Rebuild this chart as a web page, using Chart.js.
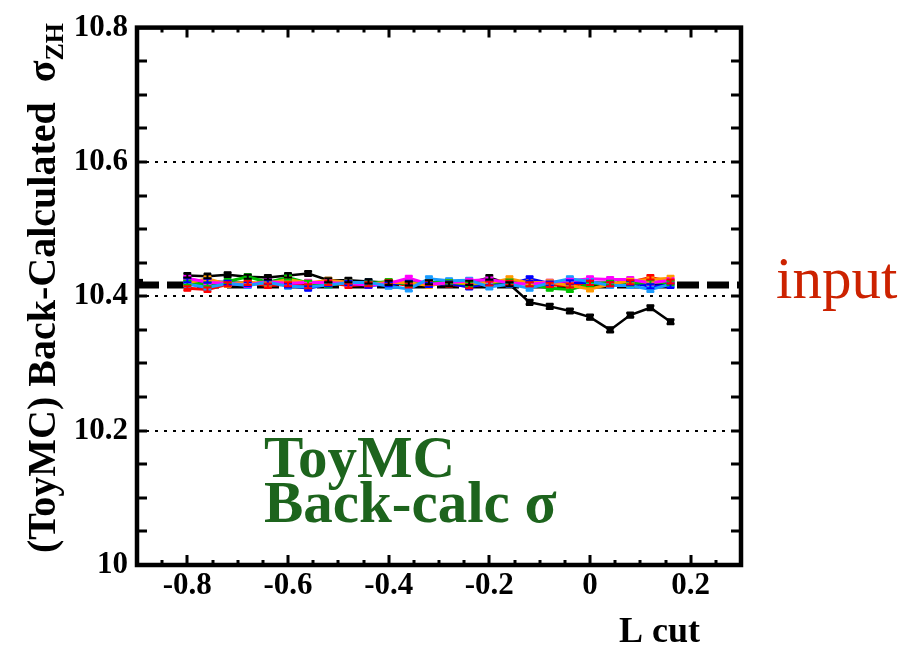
<!DOCTYPE html>
<html><head><meta charset="utf-8">
<script src="https://cdn.jsdelivr.net/npm/chart.js@4"></script>
<style>html,body{margin:0;padding:0;background:#fff;}</style>
</head><body>
<canvas id="c" width="908" height="647"></canvas>
<script>
// ---- data ----
const lcut = [-0.8,-0.76,-0.72,-0.68,-0.64,-0.6,-0.56,-0.52,-0.48,-0.44,-0.4,-0.36,-0.32,-0.28,-0.24,-0.2,-0.16,-0.12,-0.08,-0.04,0,0.04,0.08,0.12,0.16];
const sigBlack   = [10.431,10.430,10.432,10.429,10.428,10.431,10.434,10.424,10.424,10.422,10.420,10.419,10.421,10.418,10.420,10.428,10.418,10.391,10.385,10.378,10.369,10.350,10.372,10.383,10.362];
const sigRed     = [10.412,10.410,10.418,10.420,10.416,10.418,10.415,10.420,10.416,10.418,10.421,10.416,10.420,10.418,10.415,10.419,10.420,10.418,10.417,10.416,10.420,10.418,10.421,10.428,10.422];
const sigBlue    = [10.424,10.423,10.420,10.418,10.421,10.416,10.412,10.418,10.420,10.416,10.418,10.420,10.417,10.419,10.414,10.420,10.418,10.426,10.419,10.421,10.420,10.418,10.420,10.415,10.416];
const sigGreen   = [10.420,10.418,10.422,10.429,10.421,10.428,10.420,10.417,10.420,10.419,10.422,10.418,10.420,10.421,10.418,10.420,10.422,10.418,10.412,10.410,10.418,10.420,10.419,10.421,10.420];
const sigMagenta = [10.427,10.421,10.419,10.417,10.422,10.419,10.421,10.420,10.419,10.417,10.419,10.427,10.418,10.420,10.423,10.425,10.420,10.418,10.421,10.423,10.426,10.425,10.425,10.420,10.424];
const sigOrange  = [10.420,10.426,10.418,10.421,10.419,10.425,10.420,10.424,10.421,10.418,10.421,10.420,10.416,10.421,10.419,10.420,10.426,10.420,10.421,10.416,10.411,10.418,10.423,10.425,10.427];
const sigCyan    = [10.418,10.413,10.419,10.416,10.421,10.415,10.414,10.417,10.420,10.421,10.415,10.411,10.426,10.423,10.424,10.414,10.418,10.412,10.420,10.426,10.422,10.416,10.416,10.410,10.418];
const sigErr     = [0.003,0.003,0.003,0.003,0.003,0.003,0.003,0.003,0.003,0.003,0.003,0.003,0.003,0.003,0.003,0.003,0.003,0.003,0.003,0.003,0.003,0.003,0.003,0.003,0.003];
const inputSigma = 10.417;
const xRange = [-0.9, 0.3];
const yRange = [10.0, 10.8];
const xTickVals = [-0.8,-0.6,-0.4,-0.2,0,0.2];
const yTickVals = [10,10.2,10.4,10.6,10.8];
const yGridVals = [10.2,10.4,10.6];

const SERIF = '"Liberation Serif","Times New Roman",serif';

function pts(ys){ return lcut.map((x,i)=>({x:x, y:ys[i]})); }
function series(ys, color, lw){
  return {data: pts(ys), borderColor: color, backgroundColor: color, showLine: true,
    borderWidth: lw, pointStyle: 'rect', pointRadius: 5, pointHoverRadius: 5,
    pointBorderWidth: 0, errors: sigErr, tension: 0};
}
const datasets = [
  series(sigCyan, '#1a9cff', 3),
  series(sigMagenta, '#ff00ff', 3),
  series(sigOrange, '#ff9900', 3),
  series(sigGreen, '#00c000', 3),
  series(sigBlue, '#0000ff', 3),
  series(sigRed, '#ff0000', 3),
  series(sigBlack, '#000000', 2.5),
  {data: [{x:xRange[0], y:inputSigma},{x:xRange[1], y:inputSigma}], borderColor:'#000', borderWidth:7,
   borderDash:[22,8], showLine:true, pointRadius:0, pointHoverRadius:0}
];

const decor = {
  id: 'decor',
  afterDatasetsDraw(chart){
    const c = chart.ctx, xs = chart.scales.x, ys = chart.scales.y;
    c.save();
    chart.data.datasets.forEach((ds)=>{
      if(!ds.errors) return;
      c.strokeStyle = ds.borderColor; c.lineWidth = 2;
      ds.data.forEach((p,i)=>{
        const px = xs.getPixelForValue(p.x);
        const y1 = ys.getPixelForValue(p.y - ds.errors[i]);
        const y2 = ys.getPixelForValue(p.y + ds.errors[i]);
        c.beginPath();
        c.moveTo(px, y1); c.lineTo(px, y2);
        c.moveTo(px-4, y1); c.lineTo(px+4, y1);
        c.moveTo(px-4, y2); c.lineTo(px+4, y2);
        c.stroke();
      });
    });
    c.restore();
  },
  afterDraw(chart){
    const c = chart.ctx, a = chart.chartArea, xs = chart.scales.x, ys = chart.scales.y;
    c.save();
    c.strokeStyle = '#000';
    c.lineWidth = 3;
    for(let k=1;k<16;k++){
      const v = yRange[0] + k*0.05;
      const py = Math.round(ys.getPixelForValue(v));
      c.beginPath();
      c.moveTo(a.left, py); c.lineTo(a.left+10, py);
      c.moveTo(a.right, py); c.lineTo(a.right-10, py);
      c.stroke();
    }
    for(let k=1;k<24;k++){
      const v = xRange[0] + k*0.05;
      const px = Math.round(xs.getPixelForValue(v));
      const major = xTickVals.some(t=>Math.abs(t-v)<1e-6);
      const len = major ? 10 : 5;
      c.beginPath();
      c.moveTo(px, a.bottom); c.lineTo(px, a.bottom-len);
      c.moveTo(px, a.top); c.lineTo(px, a.top+len);
      c.stroke();
    }
    c.lineWidth = 6;
    const pin = ys.getPixelForValue(inputSigma);
    c.beginPath(); c.moveTo(a.left-2, pin-3); c.lineTo(a.left+6, pin-3); c.stroke();
    c.lineWidth = 4.5;
    c.strokeRect(a.left, a.top, a.right-a.left, a.bottom-a.top);

    // y title
    c.fillStyle = '#000';
    c.save();
    c.translate(63, 288);
    c.rotate(-Math.PI/2);
    const main = '(ToyMC) Back-Calculated  σ';
    const sub = 'ZH';
    c.font = 'bold 40px ' + SERIF;
    const wMain = c.measureText(main).width;
    c.font = 'bold 26px ' + SERIF;
    const wSub = c.measureText(sub).width;
    const total = wMain + wSub;
    c.textBaseline = 'alphabetic';
    c.textAlign = 'left';
    c.font = 'bold 40px ' + SERIF;
    c.fillText(main, -total/2, -8);
    c.font = 'bold 26px ' + SERIF;
    c.fillText(sub, -total/2 + wMain, 0);
    c.restore();

    // x title
    c.font = 'bold 36px ' + SERIF;
    c.textAlign = 'right'; c.textBaseline = 'alphabetic';
    c.fillText('L cut', 700, 642);

    // input label
    c.fillStyle = '#cc2200';
    c.font = '59px ' + SERIF;
    c.textAlign = 'left';
    c.fillText('input', 776, 298);

    // ToyMC label
    c.fillStyle = '#1d641d';
    c.font = 'bold 59px ' + SERIF;
    c.fillText('ToyMC', 264, 477);
    c.fillText('Back-calc σ', 264, 522);
    c.restore();
  }
};

new Chart(document.getElementById('c'), {
  type: 'scatter',
  data: {datasets},
  options: {
    responsive: false, animation: false, devicePixelRatio: 1,
    layout: {padding: {left: 0, right: 167, top: 20, bottom: 0}},
    plugins: {legend: {display: false}, tooltip: {enabled: false}},
    scales: {
      x: {
        type: 'linear', min: xRange[0], max: xRange[1],
        afterBuildTicks: s => { s.ticks = xTickVals.map(v=>({value:v})); },
        afterFit: s => { s.height = 82; },
        grid: {display: false, drawTicks: false},
        border: {display: false},
        ticks: {color:'#000', padding: 2, font: {family: SERIF, size: 31, weight: 'bold'},
          callback: v => String(v)}
      },
      y: {
        type: 'linear', min: yRange[0], max: yRange[1],
        afterBuildTicks: s => { s.ticks = yTickVals.map(v=>({value:v})); },
        afterFit: s => { s.width = 137; },
        grid: {drawTicks: false, lineWidth: 2,
          color: ctx => (ctx.tick && yGridVals.some(v=>Math.abs(v-ctx.tick.value)<1e-6)) ? '#000' : 'rgba(0,0,0,0)'},
        border: {display: false, dash: [3,6]},
        ticks: {color:'#000', padding: 9, font: {family: SERIF, size: 31, weight: 'bold'},
          callback: v => String(v)}
      }
    }
  },
  plugins: [decor]
});
</script>
</body></html>
